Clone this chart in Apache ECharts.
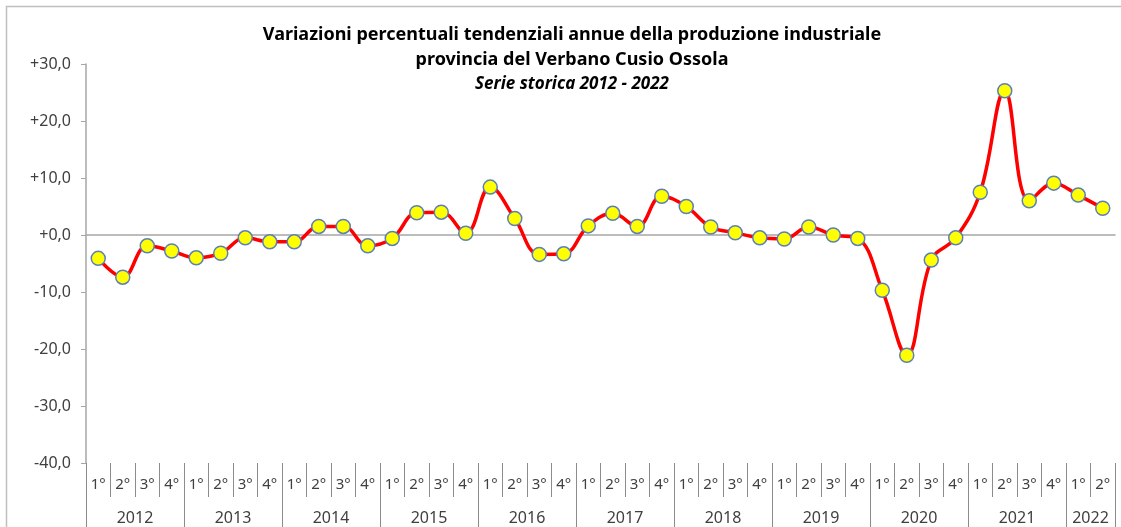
<!DOCTYPE html>
<html>
<head>
<meta charset="utf-8">
<script src="https://cdn.jsdelivr.net/npm/echarts@6/dist/echarts.min.js"></script>
<style>
  html, body { margin: 0; padding: 0; background: #fff; }
  #chart { width: 1121px; height: 527px; }
</style>
</head>
<body>
<div id="chart"></div>
<script>
const years = ['2012', '2013', '2014', '2015', '2016', '2017', '2018', '2019', '2020', '2021', '2022'];
const quarters = ['1°', '2°', '3°', '4°'];
const values = [
  -4.1, -7.4, -1.9, -2.8,
  -4.0, -3.2, -0.5, -1.2,
  -1.2, 1.5, 1.5, -1.9,
  -0.6, 3.9, 4.0, 0.3,
  8.4, 2.9, -3.4, -3.3,
  1.6, 3.8, 1.5, 6.8,
  5.0, 1.4, 0.4, -0.5,
  -0.7, 1.4, 0.0, -0.6,
  -9.7, -21.1, -4.4, -0.5,
  7.5, 25.3, 6.0, 9.1,
  7.0, 4.7
];
const yTicks = [-40, -30, -20, -10, 0, 10, 20, 30];

// etichette trimestri
const categories = [];
years.forEach(y => quarters.forEach(q => categories.push(q)));
categories.length = values.length;

// confini e centri degli anni (in unità di categoria)
const yearBounds = [];
const yearCenters = [];
for (let i = 0; i < years.length; i++) {
  const start = i * 4;
  const end = Math.min(start + 4, values.length);
  yearBounds.push(start);
  yearCenters.push((start + end) / 2);
}
yearBounds.push(values.length);

const fmt = v => (v >= 0 ? '+' : '') + v.toFixed(1).replace('.', ',');

const chart = echarts.init(document.getElementById('chart'));
const font = 'Noto Sans';
const gray = '#A6A6A6';

const option = {
  animation: false,
  title: [
    {
      text: 'Variazioni percentuali tendenziali annue della produzione industriale',
      left: 567, top: 21, textAlign: 'center',
      textStyle: { fontFamily: font, fontSize: 18, fontWeight: 'bold', color: '#000' }
    },
    {
      text: 'provincia del Verbano Cusio Ossola',
      left: 567, top: 46, textAlign: 'center',
      textStyle: { fontFamily: font, fontSize: 18, fontWeight: 'bold', color: '#000' }
    },
    {
      text: 'Serie storica 2012 - 2022',
      left: 567, top: 71, textAlign: 'center',
      textStyle: { fontFamily: font, fontSize: 17, fontWeight: 'bold', fontStyle: 'italic', color: '#000' }
    }
  ],
  graphic: [
    {
      type: 'rect',
      shape: { x: 6.5, y: 6.5, width: 1300, height: 700 },
      style: { fill: 'none', stroke: '#BFBFBF', lineWidth: 1.5 },
      silent: true
    }
  ],
  grid: { left: 86, right: 6, top: 64, bottom: 64 },
  xAxis: [
    {
      type: 'category',
      data: categories,
      axisLine: { onZero: true, lineStyle: { color: gray, width: 1.5 } },
      axisTick: { length: 5, lineStyle: { color: gray } },
      axisLabel: { show: false }
    },
    {
      type: 'category',
      data: categories,
      position: 'bottom',
      offset: 0,
      axisLine: { show: true, onZero: false, lineStyle: { opacity: 0 } },
      axisTick: { show: true, length: 34, interval: 0, lineStyle: { color: '#8C8C8C', opacity: 1 } },
      axisLabel: { interval: 0, margin: 14, fontFamily: font, fontSize: 15, color: '#404040' }
    },
    {
      type: 'value',
      min: 0,
      max: values.length,
      position: 'bottom',
      offset: 0,
      axisLine: { show: false, onZero: false },
      splitLine: { show: false },
      axisTick: { customValues: yearBounds, length: 64, lineStyle: { color: '#8C8C8C' } },
      axisLabel: {
        customValues: yearCenters,
        margin: 47,
        fontFamily: font, fontSize: 16, color: '#404040',
        formatter: v => years[Math.floor(v / 4)]
      }
    }
  ],
  yAxis: {
    type: 'value',
    min: yTicks[0],
    max: yTicks[yTicks.length - 1],
    interval: 10,
    axisLine: { show: true, lineStyle: { color: gray, width: 1.5 } },
    axisTick: { show: true, length: 5, lineStyle: { color: gray } },
    splitLine: { show: false },
    axisLabel: { margin: 15, fontFamily: font, fontSize: 16, color: '#404040', formatter: fmt }
  },
  series: [
    {
      type: 'line',
      xAxisIndex: 0,
      data: values,
      smooth: 0.4,
      symbol: 'circle',
      symbolSize: 14,
      lineStyle: { color: '#FF0000', width: 3.5 },
      itemStyle: { color: '#FFFF00', borderColor: '#5B7FB8', borderWidth: 1.5 }
    }
  ]
};

chart.setOption(option);
window.addEventListener('resize', () => chart.resize());
</script>
</body>
</html>
